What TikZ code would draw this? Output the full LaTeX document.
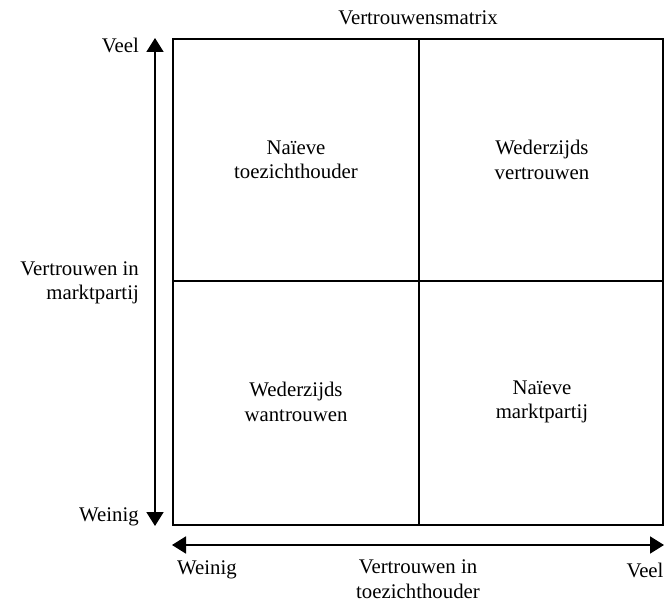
\documentclass[tikz,border=0pt]{standalone}
\usepackage{fontspec}
\setmainfont{Liberation Serif}
\usetikzlibrary{arrows.meta}
\begin{document}
\begin{tikzpicture}[x=1pt,y=-1pt,
  lbl/.style={font=\fontsize{20.8}{24.5}\selectfont, inner sep=0pt, align=center},
  boxline/.style={line width=1.4pt},
  axis/.style={line width=1.8pt, {Triangle[length=14pt,width=17pt]}-{Triangle[length=14pt,width=17pt]}}]
\useasboundingbox (0,0) rectangle (664,602);
% matrix
\coordinate (tl) at (173,39);
\coordinate (br) at (663,525);
\draw[boxline] (tl) rectangle (br);
\coordinate (vt) at (419,39);
\coordinate (vb) at (419,525);
\coordinate (hl) at (173,281);
\coordinate (hr) at (663,281);
\draw[boxline] (vt) -- (vb);
\draw[boxline] (hl) -- (hr);
% axes
\coordinate (ya) at (155,38);
\coordinate (yb) at (155,526);
\draw[axis] (ya) -- (yb);
\coordinate (xa) at (172,545);
\coordinate (xb) at (664,545);
\draw[axis] (xa) -- (xb);
% title
\node[lbl] (title) at (418,18) {Vertrouwensmatrix};
% y axis labels
\node[lbl, anchor=east] (yveel) at (139,45) {Veel};
\node[lbl, anchor=east] (yweinig) at (139,517) {Weinig};
\node[lbl, align=right, anchor=east] (ylab) at (139,283) {Vertrouwen in\\marktpartij};
% x axis labels
\node[lbl] (xweinig) at (207,570) {Weinig};
\node[lbl] (xlab) at (418,579) {Vertrouwen in\\toezichthouder};
\node[lbl] (xveel) at (645,570) {Veel};
% quadrants
\node[lbl] (q1) at (296,160) {Naïeve\\toezichthouder};
\node[lbl] (q2) at (542,160) {Wederzijds\\vertrouwen};
\node[lbl] (q3) at (296,402) {Wederzijds\\wantrouwen};
\node[lbl] (q4) at (542,402) {Naïeve\\marktpartij};
\end{tikzpicture}
\end{document}
